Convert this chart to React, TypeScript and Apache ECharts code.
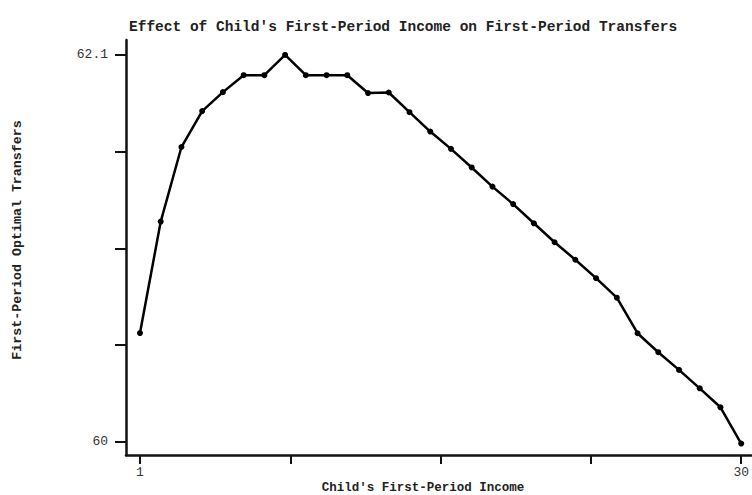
import React, { useEffect, useRef } from "react";
import * as echarts from "echarts";

const incomeValues = [1, 2, 3, 4, 5, 6, 7, 8, 9, 10, 11, 12, 13, 14, 15, 16, 17, 18, 19, 20, 21, 22, 23, 24, 25, 26, 27, 28, 29, 30];
const transferValues = [60.59, 61.195, 61.6, 61.795, 61.898, 61.99, 61.99, 62.1, 61.99, 61.99, 61.99, 61.893, 61.896, 61.789, 61.684, 61.59, 61.489, 61.385, 61.29, 61.186, 61.083, 60.988, 60.888, 60.782, 60.589, 60.486, 60.39, 60.29, 60.187, 59.99];
const xTickValues = [1, 8.25, 15.5, 22.75, 30];
const xLabelValues = [1, 30];
const yTickValues = [60, 60.525, 61.05, 61.575, 62.1];
const yLabelValues = [60, 62.1];

const titleText = "Effect of Child's First-Period Income on First-Period Transfers";
const xTitle = "Child's First-Period Income";
const yTitle = "First-Period Optimal Transfers";

const FONT = "Liberation Mono";

export default function App() {
  const ref = useRef<HTMLDivElement>(null);
  useEffect(() => {
    if (!ref.current) return;
    const chart = echarts.init(ref.current, null, { renderer: "svg" });
    const data = incomeValues.map((x, i) => [x, transferValues[i]]);
    chart.setOption({
      animation: false,
      backgroundColor: "#ffffff",
      title: {
        text: titleText,
        left: 124,
        top: 14,
        textStyle: { fontFamily: FONT, fontSize: 14.5, fontWeight: "bold", color: "#222" },
      },
      grid: { left: 126, top: 40, right: 0, bottom: 40, containLabel: false },
      xAxis: {
        type: "value",
        min: 0.3256,
        max: 30.48,
        splitLine: { show: false },
        axisLine: { show: true, lineStyle: { color: "#111", width: 2.5 } },
        axisTick: { show: true, length: 9, customValues: xTickValues, lineStyle: { color: "#111", width: 2 } },
        axisLabel: {
          show: true,
          customValues: xLabelValues,
          margin: 11,
          fontFamily: FONT,
          fontSize: 13,
          color: "#333",
          formatter: (v: number) => String(v),
        },
      },
      yAxis: {
        type: "value",
        min: 59.928,
        max: 62.181,
        splitLine: { show: false },
        axisLine: { show: true, lineStyle: { color: "#111", width: 2.5 } },
        axisTick: { show: true, length: 11, customValues: yTickValues, lineStyle: { color: "#111", width: 2 } },
        axisLabel: {
          show: true,
          customValues: yLabelValues,
          margin: 18,
          fontFamily: FONT,
          fontSize: 13,
          color: "#333",
          formatter: (v: number) => (Math.abs(v - 62.1) < 1e-6 ? "62.1" : String(Math.round(v))),
        },
      },
      graphic: [
        {
          type: "text",
          x: 423,
          y: 488,
          style: {
            text: xTitle,
            fontFamily: FONT,
            fontSize: 12.5,
            fontWeight: "bold",
            fill: "#222",
            textAlign: "center",
            textVerticalAlign: "middle",
          },
        },
        {
          type: "text",
          x: 17,
          y: 240,
          rotation: Math.PI / 2,
          style: {
            text: yTitle,
            fontFamily: FONT,
            fontSize: 13.3,
            fontWeight: "bold",
            fill: "#222",
            textAlign: "center",
            textVerticalAlign: "middle",
          },
        },
      ],
      series: [
        {
          type: "line",
          data,
          symbol: "circle",
          symbolSize: 6,
          showSymbol: true,
          itemStyle: { color: "#000" },
          lineStyle: { color: "#000", width: 2.5 },
        },
      ],
    });
    return () => chart.dispose();
  }, []);
  return <div ref={ref} style={{ width: 752, height: 495, position: "absolute", left: 0, top: 0 }} />;
}
